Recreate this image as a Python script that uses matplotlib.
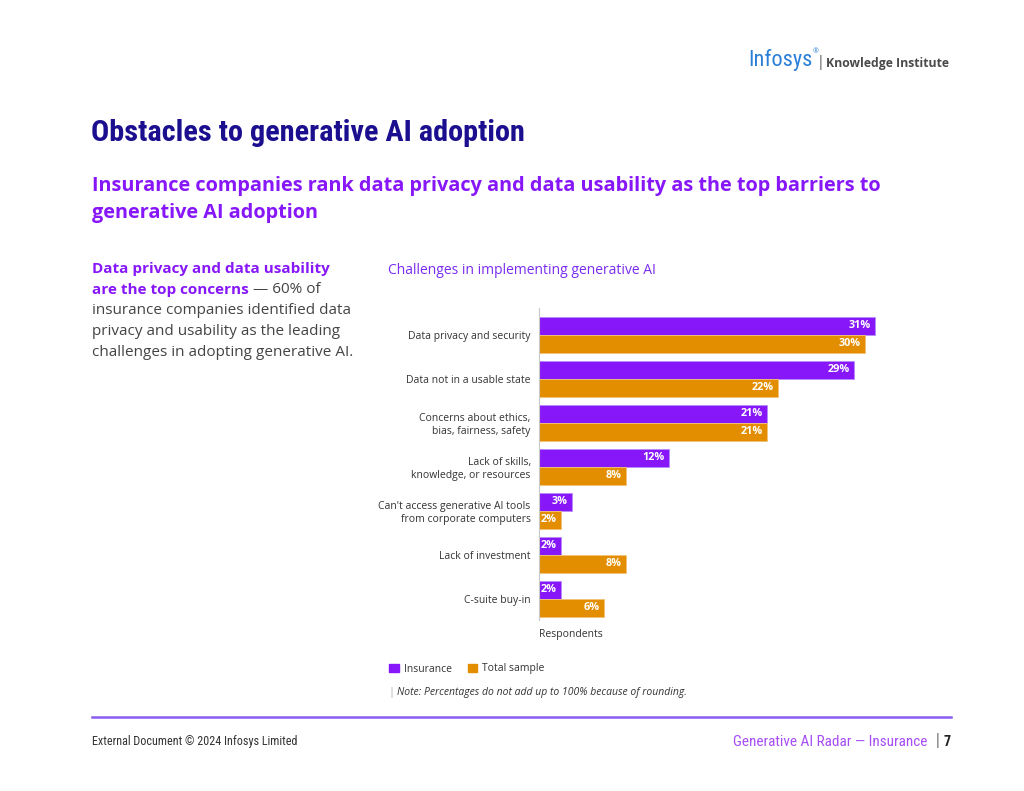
import matplotlib
matplotlib.use("Agg")
import matplotlib.pyplot as plt
from matplotlib.patches import Patch
from matplotlib import font_manager
from matplotlib.font_manager import FontProperties
import numpy as np

# data
categories = [
    "Data privacy and security",
    "Data not in a usable state",
    "Concerns about ethics,\nbias, fairness, safety",
    "Lack of skills,\nknowledge, or resources",
    "Can't access generative AI tools\nfrom corporate computers",
    "Lack of investment",
    "C-suite buy-in",
]
insurance = [31, 29, 21, 12, 3, 2, 2]
total_sample = [30, 22, 21, 8, 2, 8, 6]
series_names = ["Insurance", "Total sample"]

PURPLE = "#8717F9"
ORANGE = "#E38E00"
NAVY = "#1B0E8F"
GRAY = "#333333"
BODY = ["Open Sans", "DejaVu Sans"]

plt.rcParams["font.family"] = BODY


def narrow_props(**kw):
    # pick a condensed face if one is installed
    for fam in ("Roboto Condensed", "Liberation Sans Narrow", "Open Sans Condensed"):
        try:
            font_manager.findfont(FontProperties(family=fam), fallback_to_default=False)
            return FontProperties(family=fam, **kw)
        except ValueError:
            pass
    return FontProperties(family="DejaVu Sans", stretch="condensed", **kw)


W, H = 1024, 791
fig = plt.figure(figsize=(W / 100, H / 100), dpi=100)


def fx(px):
    return px / W


def fy(py):
    return 1 - py / H


def fit_width(txt, target_px):
    fig.canvas.draw()
    w = txt.get_window_extent().width
    txt.set_fontsize(txt.get_fontsize() * target_px / w)


# chart axes
ax = fig.add_axes([fx(539), fy(620), fx(434), 312 / H])
y = np.arange(len(categories))
bh = 0.41
b1 = ax.barh(y - bh / 2, insurance, height=bh, color=PURPLE, edgecolor="#B58CFF", linewidth=0.6)
b2 = ax.barh(y + bh / 2, total_sample, height=bh, color=ORANGE, edgecolor="#F2C27A", linewidth=0.6)
ax.set_xlim(0, 40)
ax.set_ylim(6.48, -0.61)

for bars, vals in ((b1, insurance), (b2, total_sample)):
    for rect, v in zip(bars, vals):
        ax.annotate(f"{v}%", xy=(v, rect.get_y() + rect.get_height() / 2),
                    xytext=(-3, 0), textcoords="offset points",
                    ha="right", va="center", color="white", fontsize=7.8,
                    fontweight="bold")

ax.set_yticks(y)
ax.set_yticklabels(categories, fontsize=7.5, color=GRAY, ha="right")
ax.tick_params(axis="y", length=0, pad=6)
ax.set_xticks([])
for s in ("top", "right", "bottom"):
    ax.spines[s].set_visible(False)
ax.spines["left"].set_color("#C8C8C8")
ax.spines["left"].set_linewidth(0.8)

fig.text(fx(539), fy(634), "Respondents", fontsize=7.5, color=GRAY, va="center")

# legend
handles = [Patch(color=PURPLE), Patch(color=ORANGE)]
fig.legend(handles, series_names, loc="center left",
           bbox_to_anchor=(fx(380), fy(669)), ncol=2, frameon=False,
           handlelength=0.9, handleheight=0.9, handletextpad=0.5,
           columnspacing=1.5, fontsize=7.5, labelcolor=GRAY)

fig.text(fx(388), fy(692), "|", fontsize=8, color="#AAAAAA", va="center")
fig.text(fx(397), fy(692), "Note: Percentages do not add up to 100% because of rounding.",
         fontsize=7.5, style="italic", color=GRAY, va="center")

# headings
title = fig.text(fx(91), fy(133), "Obstacles to generative AI adoption",
                 fontproperties=narrow_props(weight="bold", size=29),
                 color=NAVY, va="center")
fit_width(title, 432)
fig.text(fx(92), fy(186), "Insurance companies rank data privacy and data usability as the top barriers to",
         fontsize=14.3, fontweight="bold", color=PURPLE, va="center")
fig.text(fx(92), fy(213), "generative AI adoption",
         fontsize=14.3, fontweight="bold", color=PURPLE, va="center")

fig.text(fx(388), fy(270), "Challenges in implementing generative AI",
         fontsize=10, color="#7A2CF0", va="center")

# left paragraph
fig.text(fx(92), fy(269), "Data privacy and data usability", fontsize=11,
         fontweight="bold", color=PURPLE, va="center")
t = fig.text(fx(92), fy(290), "are the top concerns", fontsize=11,
             fontweight="bold", color=PURPLE, va="center")
ax.annotate(" \u2014 60% of", xy=(1, 0.5), xycoords=t, fontsize=11,
            color="#444444", va="center", ha="left", annotation_clip=False)
for i, line in enumerate(["insurance companies identified data",
                          "privacy and usability as the leading",
                          "challenges in adopting generative AI."]):
    fig.text(fx(92), fy(311 + i * 20.7), line, fontsize=11, color="#444444", va="center")

# logo
logo = fig.text(fx(748), fy(60), "Infosys", fontproperties=narrow_props(size=17),
                color="#2B7FD6", va="center")
fit_width(logo, 64)
ax.annotate("\u00ae", xy=(1, 0.85), xycoords=logo, fontsize=5, color="#2B7FD6",
            va="center", ha="left", annotation_clip=False)
fig.text(fx(817), fy(62), "|", fontsize=10, color="#555555", va="center")
fig.text(fx(826), fy(64), "Knowledge Institute", fontsize=8.8, fontweight="bold",
         color="#4A4A4A", va="center")

# footer
fig.add_artist(plt.Line2D([fx(92), fx(951)], [fy(717), fy(717)], color="#8B5CF0",
                          linewidth=1.8, transform=fig.transFigure))
foot = fig.text(fx(92), fy(741), "External Document \u00a9 2024 Infosys Limited",
                fontproperties=narrow_props(size=8), color=GRAY, va="center")
fit_width(foot, 205)
radar = fig.text(fx(927), fy(742), "Generative AI Radar \u2014 Insurance",
                 fontproperties=narrow_props(size=10), color="#A64DF5",
                 va="center", ha="right")
fit_width(radar, 194)
fig.text(fx(934), fy(741), "|", fontsize=10, color="#555555", va="center")
fig.text(fx(944), fy(742), "7", fontproperties=narrow_props(weight="bold", size=10),
         color="#222222", va="center")

fig.savefig("out.png", dpi=100, facecolor="white")
